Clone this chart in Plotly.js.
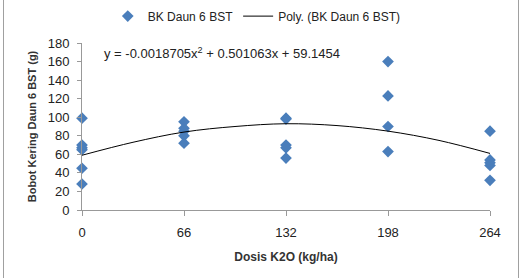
<!DOCTYPE html>
<html><head><meta charset="utf-8">
<script src="https://cdn.plot.ly/plotly-3.0.1.min.js"></script>
<style>
html,body{margin:0;padding:0;background:#fff;}
#frame{position:absolute;left:3px;top:-2px;width:514px;height:290px;border:1px solid #a0a0a0;}
#chart{position:absolute;left:0;top:0;width:524px;height:278px;}
</style></head>
<body><div id="frame"></div><div id="chart"></div>
<script>
// observed data: dose (kg/ha) and dry weight of leaves (g)
const doseX = [0,0,0,0,0,0, 66,66,66,66,66, 132,132,132,132,132, 198,198,198,198, 264,264,264,264,264];
const weightY = [99,70,67,65,45,28, 95,88,85,80,72, 99,98,70,67,56, 160,123,90,63, 85,54,51,48,32];
// trendline
const trendX = [0,33,66,99,132,165,198,231,264];
const trendY = [59,73,84,90,93,91,85,75,61];
const xTicks = [0,66,132,198,264];
const yTicks = [0,20,40,60,80,100,120,140,160,180];
const eqText = 'y = -0.0018705x<sup>2</sup> + 0.501063x + 59.1454';

const fam = '"Liberation Sans", Arial, sans-serif';
const font = {family:fam, size:13, color:'#222'};
const traces = [
  {x:doseX, y:weightY, type:'scatter', mode:'markers', name:'BK Daun 6 BST',
   marker:{symbol:'diamond', size:9, color:'#4a7ebb'}, cliponaxis:false},
  {x:trendX, y:trendY, type:'scatter', mode:'lines', name:'Poly. (BK Daun 6 BST)',
   line:{color:'#000', width:1, shape:'spline'}}
];
const layout = {
  width:524, height:278,
  margin:{l:82, r:34, t:43, b:68, autoexpand:false},
  paper_bgcolor:'rgba(0,0,0,0)', plot_bgcolor:'rgba(0,0,0,0)',
  font:font,
  showlegend:true,
  legend:{orientation:'h', xref:'container', yref:'container', x:0.49, xanchor:'center', y:0.942, yanchor:'middle',
    font:{family:fam, size:12, color:'#222'}, itemwidth:30},
  xaxis:{range:[0,264], tickvals:xTicks, ticktext:xTicks.map(String), showgrid:false, zeroline:false,
    showline:true, linecolor:'#999', linewidth:1, ticks:'outside', ticklen:5, tickcolor:'#999', ticklabelstandoff:5,
    tickfont:font, title:{text:'<b>Dosis K2O (kg/ha)</b>', font:{family:fam, size:12, color:'#333'}, standoff:14}},
  yaxis:{range:[0,180], tickvals:yTicks, showgrid:false, zeroline:false,
    showline:true, linecolor:'#999', linewidth:1, ticks:'outside', ticklen:4, tickcolor:'#999', ticklabelstandoff:5,
    tickfont:font, title:{text:'<b>Bobot Kering Daun 6 BST (g)</b>', font:{family:fam, size:11, color:'#333'}, standoff:8}},
  annotations:[{text:eqText, xref:'paper', yref:'paper', x:0.05, y:0.94, xanchor:'left', yanchor:'middle', showarrow:false,
    font:{family:fam, size:13, color:'#222'}}]
};
Plotly.newPlot('chart', traces, layout, {displayModeBar:false, staticPlot:true});
</script></body></html>
